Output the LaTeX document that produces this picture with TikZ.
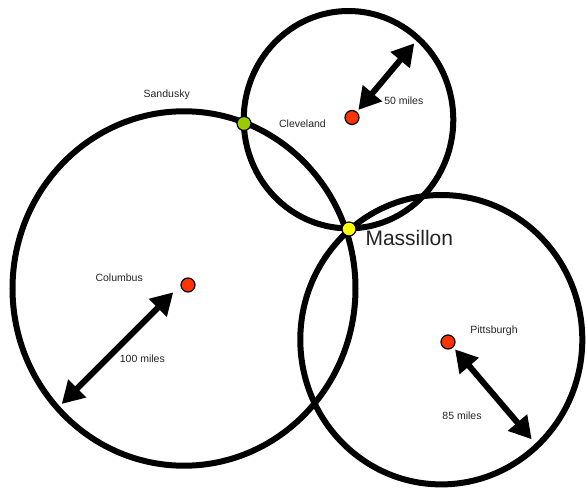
\documentclass[tikz,border=0pt]{standalone}
\usepackage{fontspec}
\setmainfont{Liberation Sans}
\usetikzlibrary{arrows.meta}
\definecolor{cityred}{RGB}{255,51,0}
\definecolor{pointgreen}{RGB}{153,204,0}
\definecolor{pointyellow}{RGB}{255,255,0}
\definecolor{labelgray}{RGB}{35,35,35}
\begin{document}
\begin{tikzpicture}[x=1pt,y=-1pt,
  ring/.style={draw=black, line width=6pt},
  dotbase/.style={circle, draw=black, line width=1.2pt, minimum size=14pt, inner sep=0pt},
  city/.style={dotbase, fill=cityred},
  greenpt/.style={dotbase, fill=pointgreen},
  yellowpt/.style={dotbase, fill=pointyellow},
  small/.style={anchor=base, inner sep=0pt, text=labelgray, font=\fontsize{10.5}{12}\selectfont},
  big/.style={anchor=base, inner sep=0pt, text=labelgray, font=\fontsize{21}{24}\selectfont},
  radiusarrow/.style={line width=6pt, {Triangle[width=24pt,length=22pt]}-{Triangle[width=24pt,length=22pt]}}
]
\useasboundingbox (0,0) rectangle (587,489);

% range rings
\coordinate (colc) at (184,288.5);
\coordinate (clec) at (348.5,119.7);
\coordinate (pitc) at (441.3,339.7);
\draw[ring] (colc) ellipse [x radius=171.5, y radius=177.2];
\draw[ring] (clec) ellipse [x radius=104.8, y radius=108.7];
\draw[ring] (pitc) ellipse [x radius=141, y radius=144.7];

% radius arrows
\coordinate (colA) at (173.3,292.3);
\coordinate (colB) at (61.7,404);
\coordinate (cleA) at (358.3,110);
\coordinate (cleB) at (414.3,43.3);
\coordinate (pitA) at (455,349.3);
\coordinate (pitB) at (531.7,439.3);
\draw[radiusarrow] (colA) -- (colB);
\draw[radiusarrow] (cleA) -- (cleB);
\draw[radiusarrow] (pitA) -- (pitB);

% points
\node[city] (columbus) at (188,285) {};
\node[city] (cleveland) at (352,117.5) {};
\node[city] (pittsburgh) at (448,342) {};
\node[greenpt] (sandusky) at (244,123.5) {};
\node[yellowpt] (massillon) at (349,229) {};

% labels
\node[small] (lsandusky) at (166.7,97.3) {Sandusky};
\node[small] (lcleveland) at (302.5,127.3) {Cleveland};
\node[small] (l50) at (403.8,105) {50 miles};
\node[big] (lmassillon) at (409.3,246) {Massillon};
\node[small] (lcolumbus) at (119.2,281.3) {Columbus};
\node[small] (l100) at (142.3,362.3) {100 miles};
\node[small] (lpittsburgh) at (494,334) {Pittsburgh};
\node[small] (l85) at (462,419.3) {85 miles};
\end{tikzpicture}
\end{document}
